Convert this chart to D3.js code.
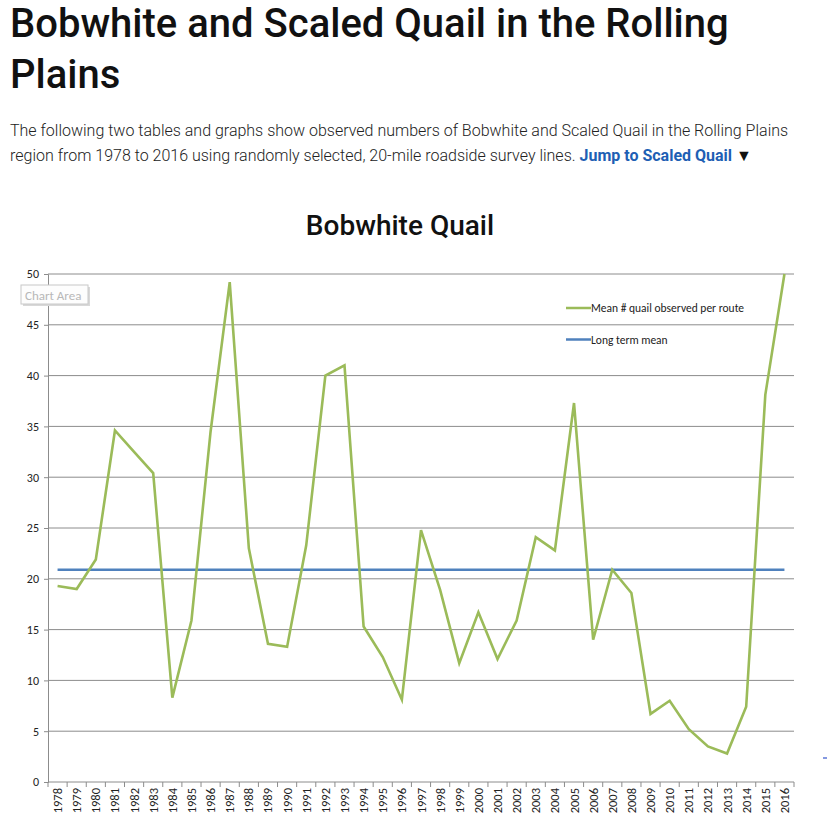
<!DOCTYPE html>
<html>
<head>
<meta charset="utf-8">
<script src="https://cdn.jsdelivr.net/npm/d3@7"></script>
<style>
  body { margin: 0; background: #fff; font-family: Roboto, sans-serif; }
  svg { display: block; }
</style>
</head>
<body>
<svg id="chart" width="827" height="826"></svg>
<script>
/* data */
const years = d3.range(1978, 2017).map(String);
const meanQuail = [19.3, 19.0, 21.9, 34.6, 32.5, 30.4, 8.3, 15.9, 34.5, 49.2,
  23.0, 13.6, 13.3, 23.3, 40.0, 41.0, 15.3, 12.3, 8.1, 24.8,
  18.9, 11.7, 16.7, 12.1, 15.9, 24.1, 22.8, 37.3, 14.0, 20.9,
  18.6, 6.7, 8.0, 5.2, 3.5, 2.8, 7.4, 38.1, 50.0];
const longTermMean = 20.9;
const yTicks = [0, 5, 10, 15, 20, 25, 30, 35, 40, 45, 50];
const legendLabels = ['Mean # quail observed per route', 'Long term mean'];

const svg = d3.select('#chart');

/* page heading and intro text */
const heading = svg.append('text')
  .attr('font-family', 'Roboto, sans-serif')
  .attr('font-weight', 500)
  .attr('font-size', 40)
  .attr('fill', '#111');
heading.append('tspan').attr('x', 10).attr('y', 37).text('Bobwhite and Scaled Quail in the Rolling');
heading.append('tspan').attr('x', 10).attr('y', 88).text('Plains');

const intro = svg.append('g')
  .attr('font-family', 'Roboto, sans-serif')
  .attr('font-weight', 300)
  .attr('font-size', 16)
  .attr('fill', '#222');
intro.append('text').attr('x', 10).attr('y', 136)
  .text('The following two tables and graphs show observed numbers of Bobwhite and Scaled Quail in the Rolling Plains');
const l2 = intro.append('text').attr('x', 10).attr('y', 161);
l2.append('tspan').text('region from 1978 to 2016 using randomly selected, 20-mile roadside survey lines. ');
l2.append('tspan').attr('font-weight', 700).attr('fill', '#1e5fb4').text('Jump to Scaled Quail');
l2.append('tspan').attr('font-weight', 400).attr('fill', '#111').text(' \u25BC');

/* chart title */
svg.append('text')
  .attr('x', 400).attr('y', 235)
  .attr('text-anchor', 'middle')
  .attr('font-family', 'Roboto, sans-serif')
  .attr('font-weight', 500)
  .attr('font-size', 28)
  .attr('fill', '#111')
  .text('Bobwhite Quail');

/* plot area */
const margin = { left: 48, right: 33, top: 274, bottom: 44 };
const width = 827, height = 826;

const xScale = d3.scaleBand()
  .domain(years)
  .range([margin.left, width - margin.right]);
const yScale = d3.scaleLinear()
  .domain([0, 50])
  .range([height - margin.bottom, margin.top]);

const chartFont = 'Calibri, Carlito, "Liberation Sans", Arial, sans-serif';

/* gridlines */
svg.append('g')
  .selectAll('line')
  .data(yTicks.filter(d => d > 0))
  .join('line')
  .attr('x1', margin.left).attr('x2', width - margin.right)
  .attr('y1', d => yScale(d)).attr('y2', d => yScale(d))
  .attr('stroke', '#8c8c8c').attr('stroke-width', 1);

/* y axis */
const yAxis = d3.axisLeft(yScale).tickValues(yTicks).tickSize(4).tickPadding(5);
const gy = svg.append('g')
  .attr('transform', `translate(${margin.left},0)`)
  .call(yAxis);
gy.select('.domain').attr('stroke', '#8c8c8c');
gy.selectAll('.tick line').attr('stroke', '#8c8c8c');
gy.selectAll('text').attr('font-family', chartFont).attr('font-size', 12).attr('fill', '#222');

/* x axis, ticks between categories */
const gx = svg.append('g')
  .attr('transform', `translate(0,${yScale(0)})`);
gx.append('line')
  .attr('x1', margin.left).attr('x2', width - margin.right)
  .attr('stroke', '#8c8c8c');
gx.selectAll('line.tk')
  .data(years.concat(['end']))
  .join('line')
  .attr('class', 'tk')
  .attr('x1', (d, i) => margin.left + i * xScale.step())
  .attr('x2', (d, i) => margin.left + i * xScale.step())
  .attr('y1', 0).attr('y2', 5)
  .attr('stroke', '#8c8c8c');
gx.selectAll('text')
  .data(years)
  .join('text')
  .attr('transform', d => `translate(${xScale(d) + xScale.bandwidth() / 2 + 4.5},6) rotate(-90)`)
  .attr('text-anchor', 'end')
  .attr('font-family', chartFont)
  .attr('font-size', 12.5)
  .attr('fill', '#222')
  .text(d => d);

const cx = d => xScale(d) + xScale.bandwidth() / 2;

/* long term mean line */
svg.append('path')
  .datum(years)
  .attr('d', d3.line().x(cx).y(() => yScale(longTermMean)))
  .attr('fill', 'none')
  .attr('stroke', '#4f81bd')
  .attr('stroke-width', 2.5);

/* mean quail line */
svg.append('path')
  .datum(meanQuail)
  .attr('d', d3.line().x((d, i) => cx(years[i])).y(d => yScale(d)))
  .attr('fill', 'none')
  .attr('stroke', '#9bbb59')
  .attr('stroke-width', 2.6)
  .attr('stroke-linejoin', 'miter');

/* legend */
const legend = svg.append('g').attr('transform', 'translate(566,308)');
const colors = ['#9bbb59', '#4f81bd'];
legendLabels.forEach((lab, i) => {
  const row = legend.append('g').attr('transform', `translate(0,${i * 31.5})`);
  row.append('line').attr('x1', 0).attr('x2', 25)
    .attr('stroke', colors[i]).attr('stroke-width', 2.5);
  row.append('text').attr('x', 25).attr('y', 4)
    .attr('font-family', chartFont).attr('font-size', 11.5).attr('fill', '#222')
    .text(lab);
});

/* "Chart Area" hover tooltip seen in the screenshot */
const tip = svg.append('g').attr('transform', 'translate(21,285)');
tip.append('rect').attr('x', 2).attr('y', 2).attr('width', 67).attr('height', 19)
  .attr('fill', '#d8d8d8');
tip.append('rect').attr('width', 67).attr('height', 19)
  .attr('fill', '#fdfdfd').attr('stroke', '#c8c8c8');
tip.append('text').attr('x', 4).attr('y', 14.5)
  .attr('font-family', chartFont).attr('font-size', 13).attr('fill', '#b8b8b8')
  .text('Chart Area');

/* tiny stray mark at the right edge */
svg.append('line').attr('x1', 823).attr('x2', 827).attr('y1', 758).attr('y2', 758)
  .attr('stroke', '#3355cc').attr('stroke-width', 1.2);
</script>
</body>
</html>
